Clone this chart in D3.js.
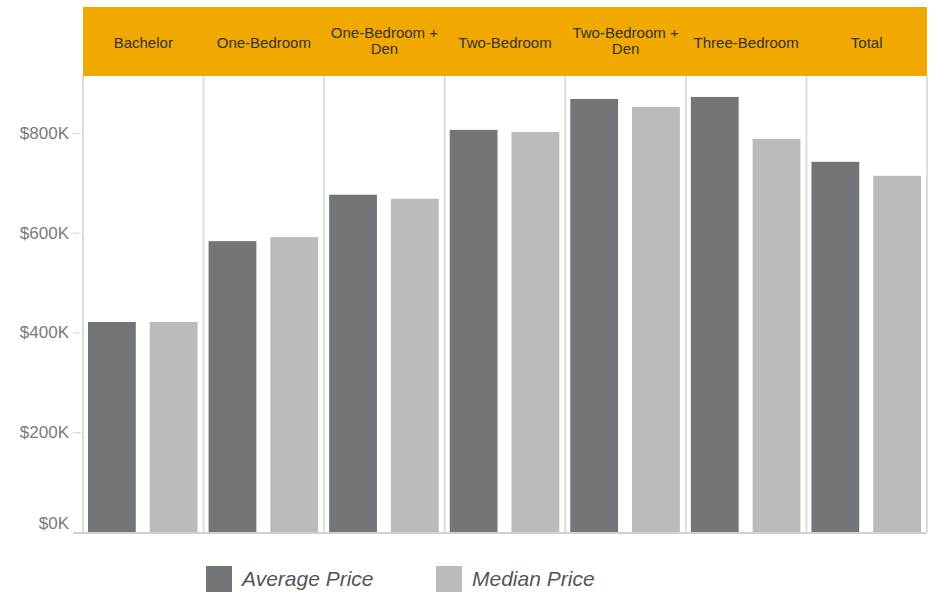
<!DOCTYPE html>
<html>
<head>
<meta charset="utf-8">
<script src="https://cdn.jsdelivr.net/npm/d3@7"></script>
<style>
  body { margin: 0; background: #fff; }
  text { font-family: "Liberation Sans", Arial, sans-serif; }
</style>
</head>
<body>
<div id="chart"></div>
<script>
const categories = ['Bachelor', 'One-Bedroom', 'One-Bedroom + Den', 'Two-Bedroom', 'Two-Bedroom + Den', 'Three-Bedroom', 'Total'];
const headerLines = [['Bachelor'], ['One-Bedroom'], ['One-Bedroom +', 'Den'], ['Two-Bedroom'], ['Two-Bedroom +', 'Den'], ['Three-Bedroom'], ['Total']];
const seriesNames = ['Average Price', 'Median Price'];
const averagePrice = [421000, 583000, 676000, 806000, 868000, 872000, 742000];
const medianPrice = [421000, 591000, 668000, 802000, 852000, 788000, 714000];
const yTicks = [0, 200000, 400000, 600000, 800000];

const width = 934, height = 592;
const left = 83, right = 927, headTop = 7, headBottom = 76, base = 532;
const colors = ['#737679', '#babbba'];

const svg = d3.select('#chart').append('svg').attr('width', width).attr('height', height);

const x = d3.scaleBand().domain(categories).range([left, right]).padding(0);
const xs = d3.scaleBand().domain(seriesNames).range([5, x.bandwidth() - 6]).paddingInner(0.226);
const y = d3.scaleLinear().domain([0, 914000]).range([base, headBottom]);

// header band
svg.append('rect').attr('x', left).attr('y', headTop).attr('width', right - left).attr('height', headBottom - headTop).attr('fill', '#f1a900');

const head = svg.append('g').selectAll('text').data(categories).join('text')
  .attr('x', d => x(d) + x.bandwidth() / 2)
  .attr('text-anchor', 'middle')
  .attr('font-size', 15)
  .attr('fill', '#333');
head.each(function(d, i) {
  const lines = headerLines[i];
  const y0 = lines.length === 1 ? 48 : 38;
  d3.select(this).selectAll('tspan').data(lines).join('tspan')
    .attr('x', x(d) + x.bandwidth() / 2)
    .attr('y', (l, j) => y0 + j * 16)
    .text(l => l);
});

// panel separators
svg.append('g').selectAll('line').data(categories.concat(['end'])).join('line')
  .attr('x1', (d, i) => i < categories.length ? x(d) : right)
  .attr('x2', (d, i) => i < categories.length ? x(d) : right)
  .attr('y1', headBottom).attr('y2', base)
  .attr('stroke', '#dcdcdc').attr('stroke-width', 2);

// bars
const groups = svg.append('g').selectAll('g').data(categories).join('g')
  .attr('transform', d => `translate(${x(d)},0)`);
groups.selectAll('rect').data((d, i) => [averagePrice[i], medianPrice[i]].map((v, k) => ({ s: seriesNames[k], v, k })))
  .join('rect')
  .attr('x', d => xs(d.s))
  .attr('width', xs.bandwidth())
  .attr('y', d => y(d.v))
  .attr('height', d => base - y(d.v))
  .attr('fill', d => colors[d.k]);

// y axis
const yAxis = d3.axisLeft(y).tickValues(yTicks).tickSize(8).tickPadding(4)
  .tickFormat(d => '$' + d3.format('d')(d / 1000) + 'K');
const ya = svg.append('g').attr('transform', `translate(${left - 2},0)`).call(yAxis);
ya.select('.domain').remove();
ya.selectAll('line').attr('stroke', '#d0d0d0');
ya.selectAll('text').attr('font-size', 17).attr('fill', '#7a7a7a');
// bottom label sits above the baseline, as in the original
ya.selectAll('.tick text').filter(d => d === 0).attr('dy', '-0.2em');

// baseline
svg.append('line').attr('x1', 73).attr('x2', right).attr('y1', base + 1).attr('y2', base + 1)
  .attr('stroke', '#d0d0d0').attr('stroke-width', 2);

// legend
const legendX = [206, 436];
const legend = svg.append('g').selectAll('g').data(seriesNames).join('g')
  .attr('transform', (d, i) => `translate(${legendX[i]},566)`);
legend.append('rect').attr('width', 26).attr('height', 26).attr('fill', (d, i) => colors[i]);
legend.append('text').attr('x', 36).attr('y', 20).attr('font-size', 21).attr('font-style', 'italic')
  .attr('fill', '#555').text(d => d);
</script>
</body>
</html>
